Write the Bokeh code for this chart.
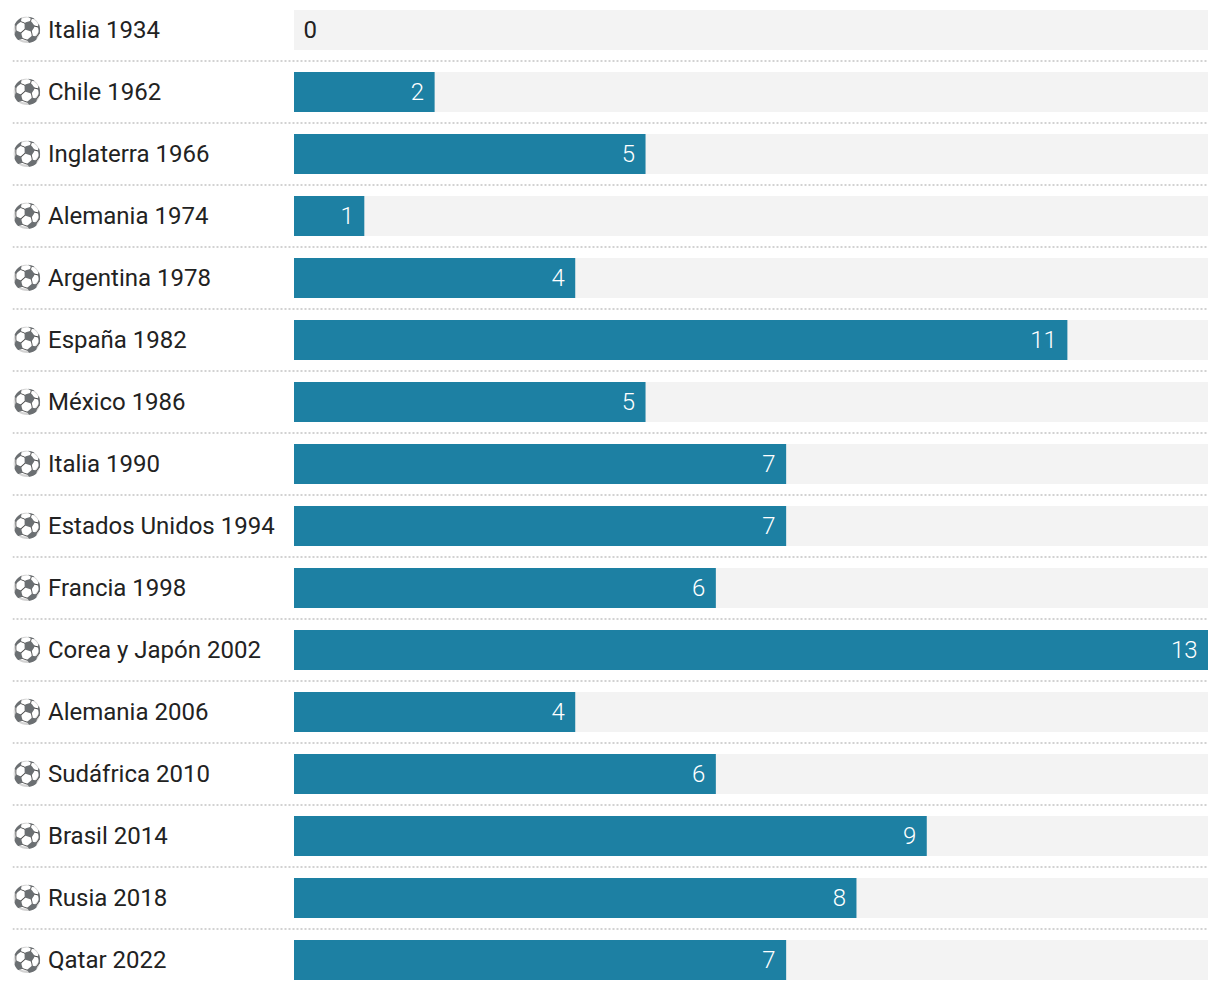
from bokeh.plotting import figure
from bokeh.models import ColumnDataSource, Range1d
from bokeh.core.properties import value
from bokeh.embed import file_html
from bokeh.resources import INLINE

labels = ["Italia 1934", "Chile 1962", "Inglaterra 1966", "Alemania 1974", "Argentina 1978",
          "España 1982", "México 1986", "Italia 1990", "Estados Unidos 1994", "Francia 1998",
          "Corea y Japón 2002", "Alemania 2006", "Sudáfrica 2010", "Brasil 2014", "Rusia 2018",
          "Qatar 2022"]
values = [0, 2, 5, 1, 4, 11, 5, 7, 7, 6, 13, 4, 6, 9, 8, 7]
max_value = 13

PLOT_W, PLOT_H = 1196, 990
LEFT_BORDER = 12
BAR_LEFT = 282
ROW = 62
BAR_H = 40
HALF = 0.5  # compensates the half-pixel translate of the SVG canvas
unit = (PLOT_W - BAR_LEFT) / max_value
x_start = -(BAR_LEFT - HALF) / unit
x_end = max_value + HALF / unit
top = -(30 - HALF) / ROW
bottom = top + PLOT_H / ROW
rows = list(range(len(labels)))

p = figure(width=PLOT_W + LEFT_BORDER, height=PLOT_H, output_backend="svg", toolbar_location=None,
           x_range=Range1d(x_start, x_end), y_range=Range1d(bottom, top),
           min_border_left=LEFT_BORDER, min_border_right=0, min_border_top=0, min_border_bottom=0,
           outline_line_color=None, background_fill_color="white", border_fill_color="white")
p.axis.visible = False
p.grid.visible = False

src = ColumnDataSource(dict(
    y=rows, label=labels, ball=["⚽"] * len(rows), x0=[x_start] * len(rows),
    full=[max_value] * len(rows), zero=[0] * len(rows)))
nz = ColumnDataSource(dict(
    y=[r for r, v in zip(rows, values) if v > 0],
    v=[v for v in values if v > 0],
    txt=[str(v) for v in values if v > 0]))
z = ColumnDataSource(dict(
    y=[r for r, v in zip(rows, values) if v == 0],
    v=[v for v in values if v == 0],
    txt=[str(v) for v in values if v == 0]))

p.hbar(y="y", left="zero", right="full", height=BAR_H / ROW, source=src,
       fill_color="#f3f3f3", line_color=None)
p.hbar(y="y", left=0, right="v", height=BAR_H / ROW, source=nz,
       fill_color="#1d80a3", line_color=None)

p.segment(x0=[x_start] * (len(rows) - 1), x1=[max_value] * (len(rows) - 1),
          y0=[r + 0.5 for r in rows[:-1]], y1=[r + 0.5 for r in rows[:-1]],
          line_color="#d2d2d2", line_width=2, line_dash="2 2")

p.text(x="x0", y="y", text="ball", source=src, text_font=value("Noto Color Emoji"),
       text_font_size="24px", text_color="#444444", text_alpha=0.8,
       text_baseline="middle", text_align="left", x_offset=-0.5, y_offset=-0.5)
p.text(x="x0", y="y", text="label", source=src, text_font=value("Roboto"), text_font_size="24px",
       text_color="#222222", text_baseline="middle", text_align="left", x_offset=35.5, y_offset=-0.5)
p.text(x="v", y="y", text="txt", source=nz, text_font=value("Roboto Light"), text_font_size="24px",
       text_color="white", text_baseline="middle", text_align="right", x_offset=-10.5, y_offset=-0.5)
p.text(x="v", y="y", text="txt", source=z, text_font=value("Roboto"), text_font_size="24px",
       text_color="#222222", text_baseline="middle", text_align="left", x_offset=9.5, y_offset=-0.5)

open("out.html", "w").write(file_html(p, INLINE))
